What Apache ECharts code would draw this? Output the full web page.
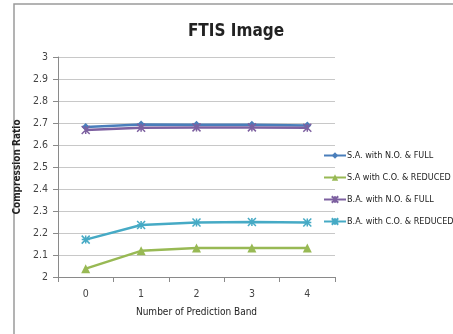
<!DOCTYPE html>
<html><head><meta charset="utf-8">
<script src="https://cdn.jsdelivr.net/npm/echarts@6/dist/echarts.min.js"></script>
<style>html,body{margin:0;padding:0;background:#fff}#c{width:453px;height:334px}</style>
</head><body><div id="c"></div>
<script>
const categories = ['0','1','2','3','4'];
const saNoFull = [2.682, 2.693, 2.692, 2.692, 2.689];
const saCoReduced = [2.038, 2.119, 2.132, 2.132, 2.132];
const baNoFull = [2.668, 2.678, 2.68, 2.68, 2.678];
const baCoReduced = [2.17, 2.236, 2.248, 2.25, 2.248];
const seriesNames = ['S.A. with N.O. & FULL','S.A with C.O. & REDUCED','B.A. with N.O. & FULL','B.A. with C.O. & REDUCED'];
const yTicks = {min: 2, max: 3, interval: 0.1};

const font = '"DejaVu Sans Condensed","Liberation Sans Narrow",sans-serif';
const colors = ['#4a7ebb','#98b954','#7d60a0','#46aac5'];
const symbols = ['diamond','triangle','path://M0,0L10,10M10,0L0,10M5,0L5,10','path://M0,0L10,10M10,0L0,10M5,0L5,10M0,5L10,5'];
const data = [saNoFull, saCoReduced, baNoFull, baCoReduced];
const chart = echarts.init(document.getElementById('c'));
chart.setOption({
  animation: false,
  title: {text: 'FTIS Image', left: 231, top: 18, textAlign: 'center',
    textStyle: {fontFamily: font, fontSize: 17, fontWeight: 'bold', color: '#222'}},
  graphic: [{type: 'rect', shape: {x: 14, y: 4, width: 600, height: 600},
    style: {fill: 'none', stroke: '#9a9a9a', lineWidth: 1.5}, silent: true}],
  grid: {left: 58, top: 57, width: 277, height: 220},
  legend: {orient: 'vertical', left: 318, top: 146, itemGap: 13, itemWidth: 22, itemHeight: 8,
    textStyle: {fontFamily: font, fontSize: 9, color: '#222', padding: [0,0,0,-4]},
    data: seriesNames},
  xAxis: {type: 'category', data: categories, boundaryGap: true,
    name: 'Number of Prediction Band', nameLocation: 'middle', nameGap: 30,
    nameTextStyle: {fontFamily: font, fontSize: 10, color: '#222'},
    axisLine: {lineStyle: {color: '#8a8a8a'}},
    axisTick: {show: true, length: 5, lineStyle: {color: '#8a8a8a'}},
    axisLabel: {fontFamily: font, fontSize: 10.5, color: '#444', margin: 12}},
  yAxis: {type: 'value', min: yTicks.min, max: yTicks.max, interval: yTicks.interval,
    name: 'Compression Ratio', nameLocation: 'middle', nameGap: 27, nameRotate: 90,
    nameTextStyle: {fontFamily: font, fontSize: 10, fontWeight: 'bold', color: '#222'},
    axisLine: {show: true, lineStyle: {color: '#8a8a8a'}},
    axisTick: {show: true, length: 5, inside: false, lineStyle: {color: '#8a8a8a'}},
    splitLine: {lineStyle: {color: '#c8c8c8'}},
    axisLabel: {fontFamily: font, fontSize: 10.5, color: '#444', margin: 10,
      formatter: v => String(Math.round(v*10)/10)}},
  series: data.map((d, i) => ({
    name: seriesNames[i], type: 'line', data: d, symbol: symbols[i],
    symbolSize: i === 1 ? 9 : 8,
    lineStyle: {color: colors[i], width: 2.5},
    itemStyle: {color: colors[i], borderColor: colors[i], borderWidth: (i >= 2) ? 1.5 : 0}
  }))
});
</script></body></html>
